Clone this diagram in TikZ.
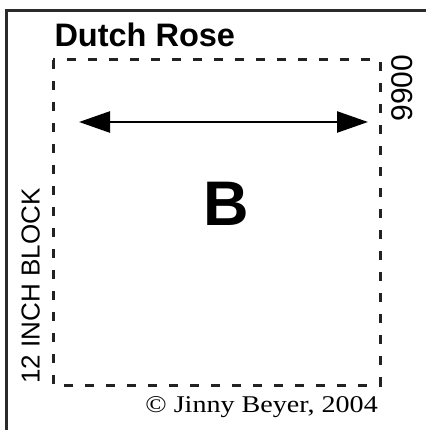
\documentclass[tikz,border=0pt]{standalone}
\usepackage{fontspec}
\usepackage{graphicx}
\setmainfont{Liberation Serif}
\setsansfont{Liberation Sans}
\usetikzlibrary{arrows.meta}
\definecolor{framegray}{HTML}{2B2B2B}
\definecolor{dashgray}{HTML}{222222}
\tikzset{
  frameline/.style={draw=framegray, line width=3pt},
  blockdash/.style={draw=dashgray, line width=3pt, dash pattern=on 9pt off 12pt},
  bigarrow/.style={line width=2.5pt, {Triangle[length=31pt,width=21pt]}-{Triangle[length=31pt,width=21pt]}},
  sanslabel/.style={inner sep=0pt, font=\sffamily},
}
\begin{document}
\begin{tikzpicture}[x=1pt,y=-1pt]
\useasboundingbox (0,0) rectangle (426,430);
% outer frame (left and top)
\coordinate (fbl) at (6,430);
\coordinate (ftl) at (6,11);
\coordinate (ftr) at (426,11);
\draw[frameline] (fbl) -- (ftl) -- (ftr);
% dashed block
\coordinate (bl) at (53,60);
\coordinate (br) at (380,385);
\draw[blockdash] (bl) rectangle (br);
% arrow
\coordinate (al) at (79,122);
\coordinate (ar) at (368,122);
\draw[bigarrow] (al) -- (ar);
% texts
\node[sanslabel, anchor=base west, font=\sffamily\bfseries\fontsize{32.5}{36}\selectfont] (title) at (54.3,46.5) {Dutch Rose};
\node[sanslabel, anchor=center, font=\sffamily\bfseries\fontsize{63}{70}\selectfont] (letter) at (226,204) {B};
\node[sanslabel, anchor=base, rotate=90, font=\sffamily\fontsize{26}{28}\selectfont] (block) at (39.5,286) {12 INCH BLOCK};
\node[sanslabel, anchor=base, rotate=90, font=\sffamily\fontsize{30}{32}\selectfont] (code) at (412,88) {9900};
\node[inner sep=0pt, anchor=base east, font=\rmfamily\fontsize{24}{26}\selectfont] (copy) at (378,412) {\scalebox{1.17}[1]{© Jinny Beyer, 2004}};
\end{tikzpicture}
\end{document}
